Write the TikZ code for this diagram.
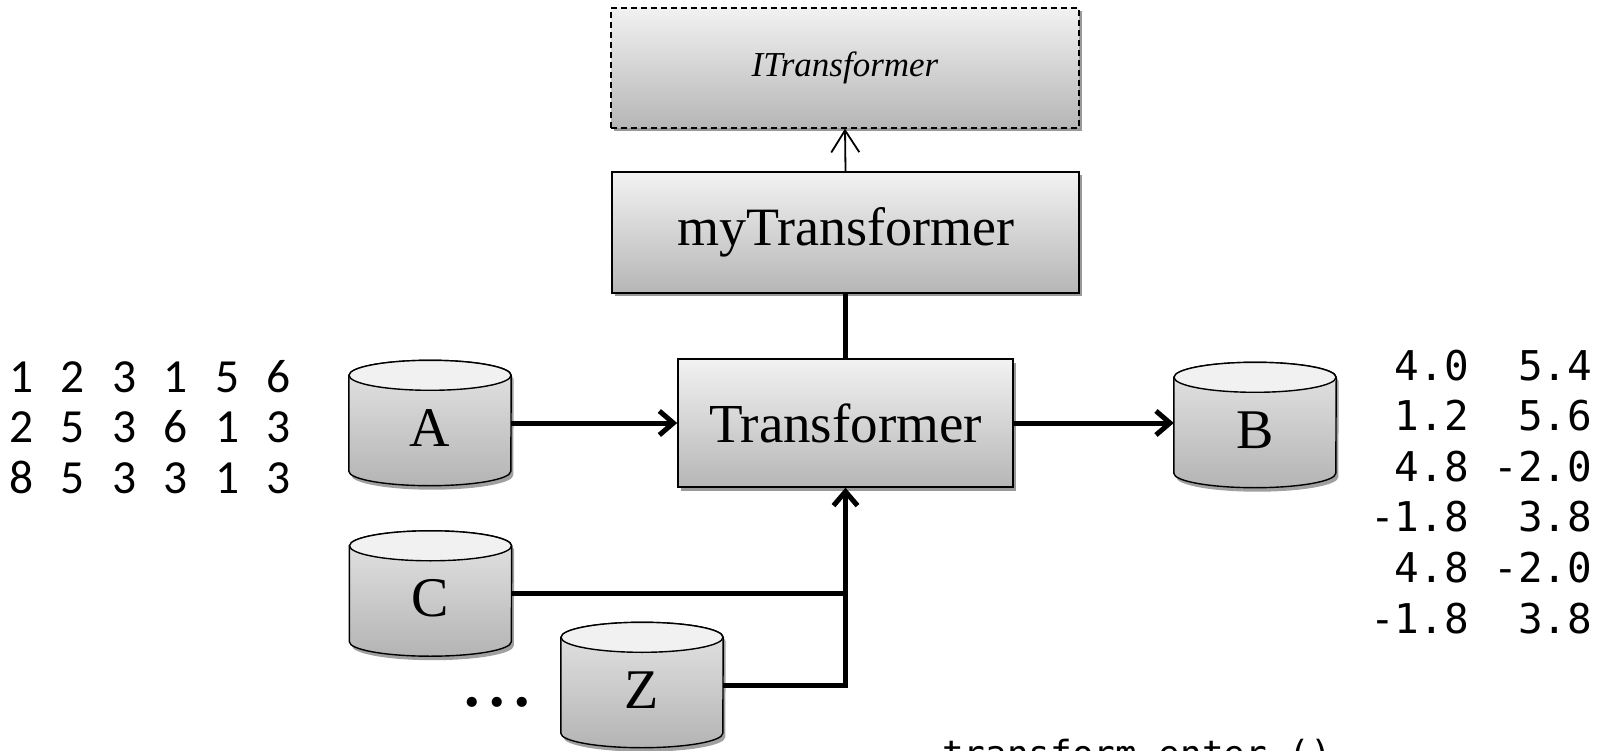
\documentclass[tikz,border=0pt]{standalone}
\usepackage{fontspec}
\setmainfont{Liberation Serif}
\setmonofont{DejaVu Sans Mono}
\newfontfamily\digitfont{Carlito}
\usetikzlibrary{arrows.meta,shadows,backgrounds}

\definecolor{shadetop}{RGB}{242,242,242}
\definecolor{shadebot}{RGB}{182,182,182}
\definecolor{drumtop}{RGB}{229,229,229}
\definecolor{drumbot}{RGB}{180,180,180}
\definecolor{drumlid}{RGB}{241,241,241}
\definecolor{shadowgray}{RGB}{128,128,128}

% one row of the input table, fixed column pitch
\newcommand\digitrow[6]{%
  \makebox[51.5pt][l]{#1}\makebox[51.5pt][l]{#2}\makebox[51.5pt][l]{#3}%
  \makebox[51.5pt][l]{#4}\makebox[51.5pt][l]{#5}\makebox[51.5pt][l]{#6}}

% outline of a drum around node #1, shifted by (#2,#3)
\newcommand\drumoutline[3]{%
  ([xshift=#2,yshift=#3-15pt]#1.north west) -- ([xshift=#2,yshift=#3+14.5pt]#1.south west)
  arc[start angle=180,end angle=360,x radius=81pt,y radius=14.5pt]
  -- ([xshift=#2,yshift=#3-15pt]#1.north east)
  arc[start angle=0,end angle=180,x radius=81pt,y radius=15pt] -- cycle}

\newcommand\drawdrum[1]{%
  \path[fill=shadowgray,opacity=0.75] \drumoutline{#1}{2.5pt}{-4pt};
  \path[draw,line width=1.4pt,top color=drumtop,bottom color=drumbot] \drumoutline{#1}{0pt}{0pt};
  \path[draw,line width=1.4pt,fill=drumlid] ([yshift=-15pt]#1.north) ellipse[x radius=81pt,y radius=15pt];}

\begin{document}
\begin{tikzpicture}[x=1pt,y=-1pt,
  panel/.style={draw,line width=1.6pt,top color=shadetop,bottom color=shadebot,inner sep=0pt,
    drop shadow={shadow xshift=2.5pt,shadow yshift=-3.5pt,fill=shadowgray,opacity=0.8}},
  iface/.style={panel,line width=1.3pt,dash pattern=on 6pt off 4pt},
  bigtext/.style={font=\fontsize{55}{60}\selectfont},
  drum/.style={minimum width=162pt,minimum height=125pt,inner sep=0pt,
    text height=46pt,text depth=0pt,font=\fontsize{56}{60}\selectfont},
  flow/.style={line width=5pt,-{Straight Barb[length=14pt,width=24pt]}},
  feed/.style={line width=5pt},
  realize/.style={line width=1.8pt,-{Straight Barb[length=22pt,width=28pt]}},
  datarow/.style={anchor=base west,inner sep=0pt},
]
\useasboundingbox (0,0) rectangle (1614,751);

% class boxes
\node[iface,minimum width=468pt,minimum height=120pt,
      font=\itshape\fontsize{35}{40}\selectfont] (I) at (845,68) {ITransformer};
\node[panel,font=\fontsize{54}{60}\selectfont,minimum width=467pt,minimum height=121pt] (my) at (845.5,232.5) {myTransformer};
\node[panel,bigtext,minimum width=335pt,minimum height=128pt] (T) at (845.5,423) {Transformer};

% data stores
\node[drum] (A) at (430,423) {A};
\node[drum] (B) at (1255,425) {B};
\node[drum] (C) at (430.5,593.5) {C};
\node[drum] (Z) at (642,685) {Z};
\begin{scope}[on background layer]
  \foreach \d in {A,B,C,Z} {\drawdrum{\d}}
\end{scope}

\node[anchor=base west,inner sep=0pt,font=\bfseries\fontsize{62}{62}\selectfont] (dots) at (464,706)
  {.\hspace{9.5pt}.\hspace{9.5pt}.};

% connectors
\draw[realize] (my.north) -- (I.south);
\draw[feed] (my.south) -- (T.north);
\draw[flow] (A.east) -- (A.east -| T.west);
\draw[flow] (T.east) -- (T.east -| B.west);
\draw[feed] (C.east) -- (C.east -| T.south);
\draw[flow] (Z.east) -| (T.south);

% input table
\node[datarow,font=\digitfont\fontsize{47.5}{50}\selectfont] (in1) at (9,392) {\digitrow{1}{2}{3}{1}{5}{6}};
\node[datarow,font=\digitfont\fontsize{47.5}{50}\selectfont] (in2) at (9,442) {\digitrow{2}{5}{3}{6}{1}{3}};
\node[datarow,font=\digitfont\fontsize{47.5}{50}\selectfont] (in3) at (9,493) {\digitrow{8}{5}{3}{3}{1}{3}};

% output table
\foreach \row [count=\i] in {{~4.0~~5.4},{~1.2~~5.6},{~4.8~-2.0},{-1.8~~3.8},{~4.8~-2.0},{-1.8~~3.8}}
  \node[datarow,font=\ttfamily\fontsize{41}{45}\selectfont] (out\i) at (1370,{380+(\i-1)*50.6}) {\row};

\node[datarow,font=\ttfamily\fontsize{36}{40}\selectfont] (call) at (942,766) {transform.enter~()};
\end{tikzpicture}
\end{document}
